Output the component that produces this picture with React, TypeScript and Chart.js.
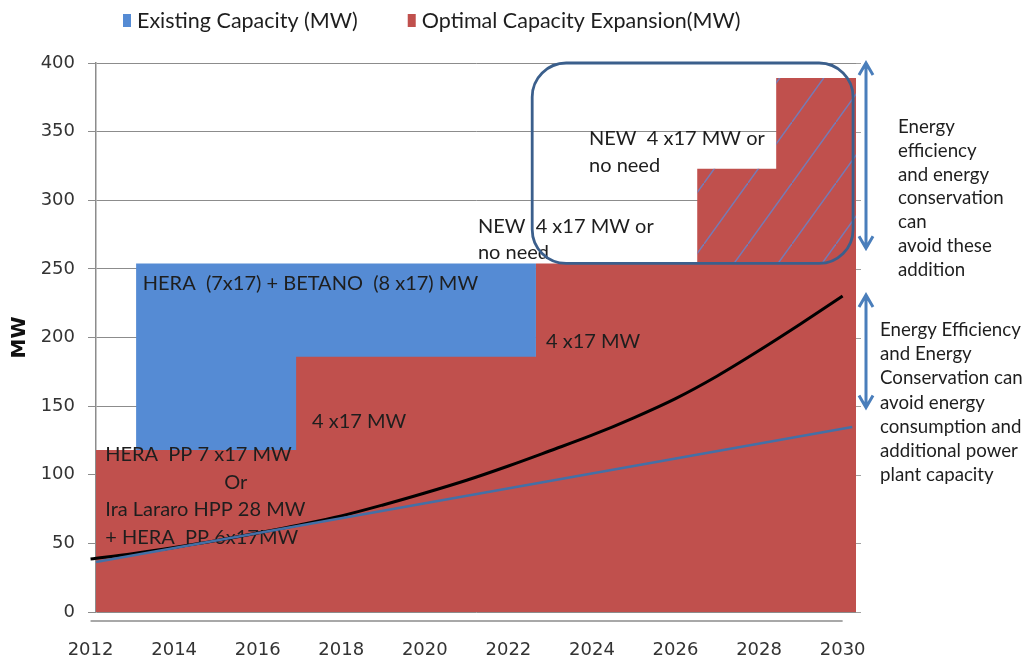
import React, { useEffect, useRef } from 'react';
import { Chart, registerables } from 'chart.js';

Chart.register(...registerables);

// ---- axis ticks ----
const tickYears = [2012, 2014, 2016, 2018, 2020, 2022, 2024, 2026, 2028, 2030];
const yTicks = [0, 50, 100, 150, 200, 250, 300, 350, 400];
const xMin = 2012.13;
const xMax = 2030.32;

// ---- Optimal capacity expansion (red steps): step start year -> MW level ----
const expansionYears = [2012.13, 2016.92, 2022.66, 2026.52, 2028.41, 2030.32];
const expansionMW = [118, 186, 254, 323, 389, 389];

// ---- Existing capacity (blue block, top of stack) ----
const existingYears = [2013.09, 2022.66];
const existingTopMW = [254, 254];

// ---- Avoidable additions (hatched part above 254 MW) ----
const avoidableYears = [2026.52, 2028.41, 2030.32];
const avoidableMW = [323, 389, 389];
const avoidableBaseMW = 254;

// ---- Demand curve (black) ----
const demandYears = [2012, 2013, 2014, 2015, 2016, 2017, 2018, 2019, 2020, 2021, 2022, 2023, 2024, 2025, 2026, 2027, 2028, 2029, 2030];
const demandMW = [38.6, 42.5, 47, 52, 57.6, 63.5, 70, 78, 86.7, 96, 106.4, 117.5, 128.8, 141.5, 155.5, 172, 190.5, 210, 230.2];

// ---- Demand with efficiency (blue line) ----
const efficientYears = [2012.13, 2030.23];
const efficientMW = [36.5, 134.8];

// ---- text annotations inside the plot (year, MW of text middle) ----
const plotLabels = [
  { text: 'HERA  (7x17) + BETANO  (8 x17) MW', x: 2013.25, y: 239.5 },
  { text: 'HERA  PP 7 x17 MW', x: 2012.35, y: 115 },
  { text: 'Or', x: 2015.2, y: 94.5 },
  { text: 'Ira Lararo HPP 28 MW', x: 2012.35, y: 74.3 },
  { text: '+ HERA  PP 6x17MW', x: 2012.35, y: 54.6 },
  { text: '4 x17 MW', x: 2017.3, y: 138.4 },
  { text: '4 x17 MW', x: 2022.9, y: 197.4 },
  { text: 'NEW  4 x17 MW or', x: 2021.27, y: 281 },
  { text: 'no need', x: 2021.27, y: 261.6 },
  { text: 'NEW  4 x17 MW or', x: 2023.93, y: 344.6 },
  { text: 'no need', x: 2023.93, y: 325 },
];

const sideText1 = ['Energy', 'efficiency', 'and energy', 'conservation', 'can', 'avoid these', 'addition'];
const sideText2 = ['Energy Efficiency', 'and Energy', 'Conservation can', 'avoid energy', 'consumption and', 'additional power', 'plant capacity'];

const legendItems = [
  { text: 'Existing Capacity (MW)', color: '#558BD4' },
  { text: 'Optimal Capacity Expansion(MW)', color: '#C0504D' },
];

const FONT = 'Lato, "Open Sans", sans-serif';
const TICK_FONT = '"DejaVu Sans", sans-serif';

function drawArrow(ctx: CanvasRenderingContext2D, x: number, y0: number, y1: number) {
  const h = 12;
  const w = 7;
  ctx.beginPath();
  ctx.moveTo(x, y0);
  ctx.lineTo(x, y1);
  ctx.moveTo(x - w, y0 + h);
  ctx.lineTo(x, y0);
  ctx.lineTo(x + w, y0 + h);
  ctx.moveTo(x - w, y1 - h);
  ctx.lineTo(x, y1);
  ctx.lineTo(x + w, y1 - h);
  ctx.stroke();
}

function roundRect(ctx: CanvasRenderingContext2D, x0: number, y0: number, x1: number, y1: number, r: number) {
  ctx.beginPath();
  ctx.moveTo(x0 + r, y0);
  ctx.lineTo(x1 - r, y0);
  ctx.arcTo(x1, y0, x1, y0 + r, r);
  ctx.lineTo(x1, y1 - r);
  ctx.arcTo(x1, y1, x1 - r, y1, r);
  ctx.lineTo(x0 + r, y1);
  ctx.arcTo(x0, y1, x0, y1 - r, r);
  ctx.lineTo(x0, y0 + r);
  ctx.arcTo(x0, y0, x0 + r, y0, r);
  ctx.closePath();
}

const annotPlugin = {
  id: 'annot',
  afterDatasetDraw(chart: any, args: any) {
    if (args.index !== 2) return;
    const { ctx, scales } = chart;
    const x = scales.x;
    const y = scales.y;
    ctx.save();
    ctx.fillStyle = '#1e1e1e';
    ctx.font = `20px ${FONT}`;
    ctx.textAlign = 'left';
    ctx.textBaseline = 'middle';
    for (const l of plotLabels) {
      ctx.fillText(l.text, x.getPixelForValue(l.x), y.getPixelForValue(l.y));
    }
    // rounded box around avoidable additions
    ctx.strokeStyle = '#3B5F8C';
    ctx.lineWidth = 2.8;
    roundRect(ctx, x.getPixelForValue(2022.57), y.getPixelForValue(400), x.getPixelForValue(2030.25), y.getPixelForValue(254), 34);
    ctx.stroke();
    ctx.restore();
  },
  afterDraw(chart: any) {
    const { ctx, chartArea, scales } = chart;
    const y = scales.y;
    ctx.save();
    // category axis line below the plot
    ctx.strokeStyle = '#a8a8a8';
    ctx.lineWidth = 2;
    ctx.beginPath();
    ctx.moveTo(scales.x.getPixelForValue(2012), chartArea.bottom + 9);
    ctx.lineTo(scales.x.getPixelForValue(2030), chartArea.bottom + 9);
    ctx.stroke();
    // right side tick marks
    ctx.strokeStyle = '#a0a0a0';
    ctx.lineWidth = 1;
    for (const v of yTicks) {
      const py = Math.round(y.getPixelForValue(v)) + 0.5;
      ctx.beginPath();
      ctx.moveTo(chartArea.right, py);
      ctx.lineTo(chartArea.right + 5, py);
      ctx.stroke();
    }
    // arrows
    ctx.strokeStyle = '#4A7EBB';
    ctx.lineWidth = 3;
    const ax = chartArea.right + 10;
    drawArrow(ctx, ax, y.getPixelForValue(400), y.getPixelForValue(265));
    drawArrow(ctx, ax, y.getPixelForValue(231), y.getPixelForValue(149));
    // side text
    ctx.fillStyle = '#1e1e1e';
    ctx.font = `18.7px ${FONT}`;
    ctx.textAlign = 'left';
    ctx.textBaseline = 'middle';
    const t1y = y.getPixelForValue(353.4);
    sideText1.forEach((s, i) => ctx.fillText(s, chartArea.right + 42, t1y + i * 23.8));
    const t2y = y.getPixelForValue(205.5);
    sideText2.forEach((s, i) => ctx.fillText(s, chartArea.right + 24, t2y + i * 24.2));
    // legend
    ctx.font = `21.5px ${FONT}`;
    let lx = 123;
    const ly = 20;
    legendItems.forEach((it) => {
      ctx.fillStyle = it.color;
      ctx.fillRect(lx, ly - 6, 8, 13);
      ctx.fillStyle = '#1e1e1e';
      ctx.fillText(it.text, lx + 14, ly + 1);
      lx += 14 + ctx.measureText(it.text).width + 50;
    });
    ctx.restore();
  },
};

export default function App() {
  const canvasRef = useRef<HTMLCanvasElement | null>(null);

  useEffect(() => {
    const canvas = canvasRef.current;
    if (!canvas) return;
    const ctx = canvas.getContext('2d');
    if (!ctx) return;

    const pc = document.createElement('canvas');
    pc.width = 44;
    pc.height = 61;
    const p = pc.getContext('2d')!;
    p.strokeStyle = 'rgba(105,130,200,0.85)';
    p.lineWidth = 1.5;
    p.beginPath();
    p.moveTo(0, 61);
    p.lineTo(44, 0);
    p.stroke();
    const pattern = ctx.createPattern(pc, 'repeat');

    const toPts = (xs: number[], ys: number[]) => xs.map((v, i) => ({ x: v, y: ys[i] }));

    const chart = new Chart(ctx, {
      type: 'line',
      data: {
        datasets: [
          {
            label: 'Existing Capacity (MW)',
            data: toPts(existingYears, existingTopMW),
            stepped: true,
            fill: 'origin',
            backgroundColor: '#558BD4',
            borderColor: 'transparent',
            borderWidth: 0,
            pointRadius: 0,
            order: 4,
          },
          {
            label: 'Optimal Capacity Expansion(MW)',
            data: toPts(expansionYears, expansionMW),
            stepped: true,
            fill: 'origin',
            backgroundColor: '#C0504D',
            borderColor: 'transparent',
            borderWidth: 0,
            pointRadius: 0,
            order: 3,
          },
          {
            label: 'Avoidable additions',
            data: toPts(avoidableYears, avoidableMW),
            stepped: true,
            fill: { value: avoidableBaseMW },
            backgroundColor: pattern as any,
            borderColor: 'transparent',
            borderWidth: 0,
            pointRadius: 0,
            order: 2,
          },
          {
            label: 'Demand',
            data: toPts(demandYears, demandMW),
            borderColor: '#000000',
            borderWidth: 3,
            pointRadius: 0,
            fill: false,
            cubicInterpolationMode: 'monotone',
            clip: 8,
            order: 1,
          },
          {
            label: 'Demand with efficiency',
            data: toPts(efficientYears, efficientMW),
            borderColor: '#4470A6',
            borderWidth: 2.5,
            pointRadius: 0,
            fill: false,
            clip: 8,
            order: 0,
          },
        ],
      },
      options: {
        animation: false,
        responsive: true,
        maintainAspectRatio: false,
        layout: { padding: { top: 63, right: 168, left: 0, bottom: 0 } },
        plugins: {
          legend: { display: false },
          tooltip: { enabled: false },
        },
        scales: {
          x: {
            type: 'linear',
            min: xMin,
            max: xMax,
            afterBuildTicks: (s: any) => {
              s.ticks = tickYears.map((v) => ({ value: v }));
            },
            afterFit: (s: any) => {
              s.height = 52;
            },
            grid: { display: false, drawTicks: false },
            border: { display: false },
            ticks: {
              autoSkip: false,
              maxRotation: 0,
              padding: 28,
              color: '#333333',
              font: { family: TICK_FONT, size: 18 },
              callback: (v: any) => String(v),
            },
          },
          y: {
            min: 0,
            max: 400,
            afterBuildTicks: (s: any) => {
              s.ticks = yTicks.map((v) => ({ value: v }));
            },
            afterFit: (s: any) => {
              s.width = 96;
            },
            grid: { color: '#8c8c8c', lineWidth: 1, tickLength: 8, drawTicks: true },
            border: { color: '#8c8c8c', width: 1.5 },
            ticks: {
              padding: 13,
              color: '#333333',
              font: { family: TICK_FONT, size: 18 },
              callback: (v: any) => String(v),
            },
            title: {
              display: true,
              text: 'MW',
              color: '#111111',
              font: { family: TICK_FONT, size: 20, weight: 'bold' },
              padding: { top: 8, bottom: 0 },
            },
          },
        },
      },
      plugins: [annotPlugin],
    });

    return () => chart.destroy();
  }, []);

  return (
    <div style={{ position: 'fixed', left: 0, top: 0, width: 1024, height: 664, background: '#ffffff' }}>
      <canvas ref={canvasRef} />
    </div>
  );
}
